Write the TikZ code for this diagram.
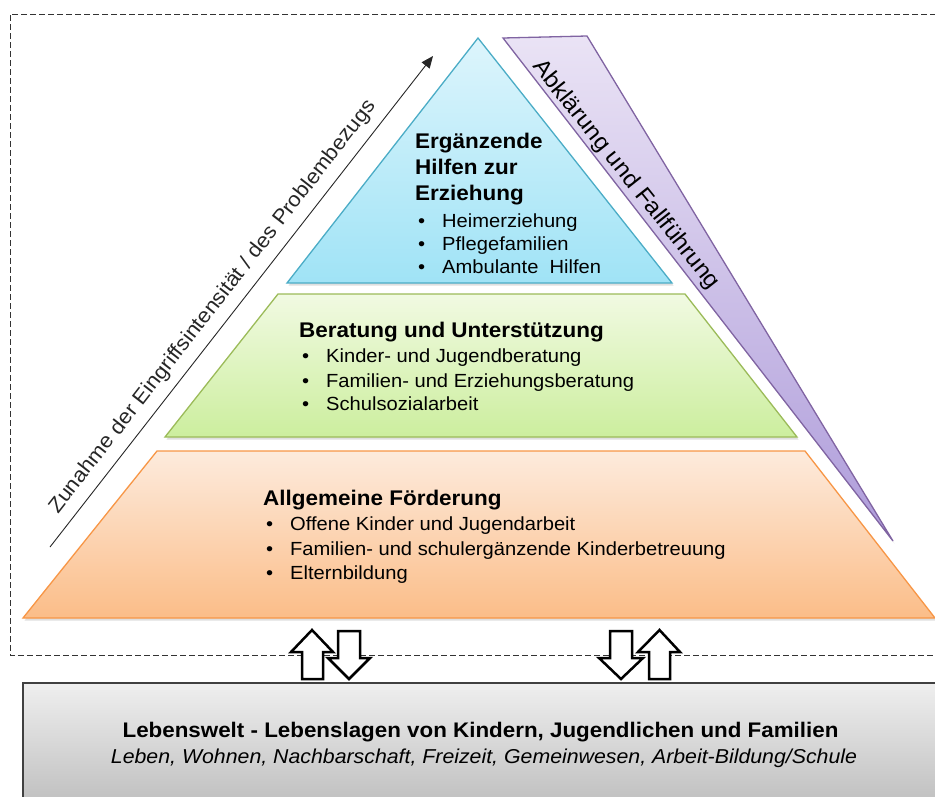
\documentclass[tikz,border=0pt]{standalone}
\usepackage{fontspec}
\setmainfont{Liberation Sans}[FakeStretch=1.06]
\usetikzlibrary{shadows,arrows.meta}
\definecolor{bluetop}{HTML}{DDF5FC}
\definecolor{bluebot}{HTML}{A0E3F6}
\definecolor{blueedge}{HTML}{4BACC6}
\definecolor{greentop}{HTML}{F1FAE2}
\definecolor{greenbot}{HTML}{CCEE9E}
\definecolor{greenedge}{HTML}{9BBB59}
\definecolor{orangetop}{HTML}{FDEBDD}
\definecolor{orangebot}{HTML}{FBBD88}
\definecolor{orangeedge}{HTML}{F79646}
\definecolor{purpletop}{HTML}{EAE3F5}
\definecolor{purplebot}{HTML}{AE9CDA}
\definecolor{purpleedge}{HTML}{8064A2}
\definecolor{graytop}{HTML}{EFEFEF}
\definecolor{graybot}{HTML}{BDBDBD}
\tikzset{
  layer/.style={line width=1.3pt, line join=miter, drop shadow={opacity=0.25, shadow xshift=1.5pt, shadow yshift=-2.5pt}},
  ttl/.style={font=\fontsize{21.2}{24}\selectfont\bfseries, anchor=base west, inner sep=0pt},
  itm/.style={font=\fontsize{19}{22}\selectfont, anchor=base west, inner sep=0pt},
  side/.style={font=\fontsize{20.8}{24}\selectfont, inner sep=0pt},
  blockarrow/.style={draw=black, fill=white, line width=2.5pt, line join=miter},
}
\newcommand{\bul}[1]{\makebox[24pt][l]{\textbullet}#1}
\begin{document}
\begin{tikzpicture}[x=1pt,y=-1pt]
\useasboundingbox (0,0) rectangle (935,796);
\clip (0,0) rectangle (935,796);
% dashed frame
\draw[dash pattern=on 6pt off 3pt, line width=0.9pt, black!80] (945,14) -- (10,14) -- (10,655) -- (945,655);
% bottom box
\shade[top color=graytop, bottom color=graybot, draw=black!75, line width=1.5pt] (23,683) rectangle (950,810);
\node[font=\fontsize{21.1}{24}\selectfont\bfseries, anchor=base] (lw) at (480.5,737) {Lebenswelt - Lebenslagen von Kindern, Jugendlichen und Familien};
\node[font=\fontsize{20.1}{23}\selectfont\itshape, anchor=base] (lwsub) at (484,763) {Leben, Wohnen, Nachbarschaft, Freizeit, Gemeinwesen, Arbeit-Bildung/Schule};
% layers
\shade[layer, top color=orangetop, bottom color=orangebot, draw=orangeedge] (157,451) -- (805,451) -- (935,618) -- (23,618) -- cycle;
\shade[layer, top color=greentop, bottom color=greenbot, draw=greenedge] (278,294) -- (685,294) -- (797,437) -- (165,437) -- cycle;
\shade[layer, top color=bluetop, bottom color=bluebot, draw=blueedge] (478,38) -- (672,283) -- (287,283) -- cycle;
\shade[layer, top color=purpletop, bottom color=purplebot, draw=purpleedge] (503,38) -- (587,36) -- (893,541) -- cycle;
% top block text
\node[ttl] (t1a) at (415,148) {Ergänzende};
\node[ttl] (t1b) at (415,174) {Hilfen zur};
\node[ttl] (t1c) at (415,200) {Erziehung};
\node[itm] (i11) at (418,227) {\bul{Heimerziehung}};
\node[itm] (i12) at (418,250) {\bul{Pflegefamilien}};
\node[itm] (i13) at (418,273) {\bul{Ambulante\ \ Hilfen}};
% middle block text
\node[ttl] (t2) at (299,337) {Beratung und Unterstützung};
\node[itm] (i21) at (302,362) {\bul{Kinder- und Jugendberatung}};
\node[itm] (i22) at (302,387) {\bul{Familien- und Erziehungsberatung}};
\node[itm] (i23) at (302,410) {\bul{Schulsozialarbeit}};
% bottom block text
\node[ttl] (t3) at (263,505) {Allgemeine Förderung};
\node[itm] (i31) at (266,530) {\bul{Offene Kinder und Jugendarbeit}};
\node[itm] (i32) at (266,555) {\bul{Familien- und schulergänzende Kinderbetreuung}};
\node[itm] (i33) at (266,579) {\bul{Elternbildung}};
% side arrow
\coordinate (za) at (50,547);
\coordinate (zb) at (433,56);
\draw[line width=0.9pt, black!85, -{Triangle[length=12pt,width=10pt]}] (za) -- (zb)
  node[side, pos=0.465, sloped, above=19pt, anchor=center] (zt) {Zunahme der Eingriffsintensität / des Problembezugs};
% purple text
\node[side, font=\fontsize{23}{26}\selectfont, rotate=-51.5] (ab) at (626,175) {Abklärung und Fallführung};
% block arrows
\draw[blockarrow] (312,630) -- (333,652) -- (323,652) -- (323,679) -- (302,679) -- (302,652) -- (291,652) -- cycle;
\draw[blockarrow] (338,631) -- (360,631) -- (360,658) -- (370,658) -- (349,679) -- (328,658) -- (338,658) -- cycle;
\draw[blockarrow] (610,631) -- (632,631) -- (632,658) -- (643,658) -- (621,679) -- (599,658) -- (610,658) -- cycle;
\draw[blockarrow] (659.5,630) -- (680,652) -- (670,652) -- (670,679) -- (649,679) -- (649,652) -- (638,652) -- cycle;
\end{tikzpicture}
\end{document}
